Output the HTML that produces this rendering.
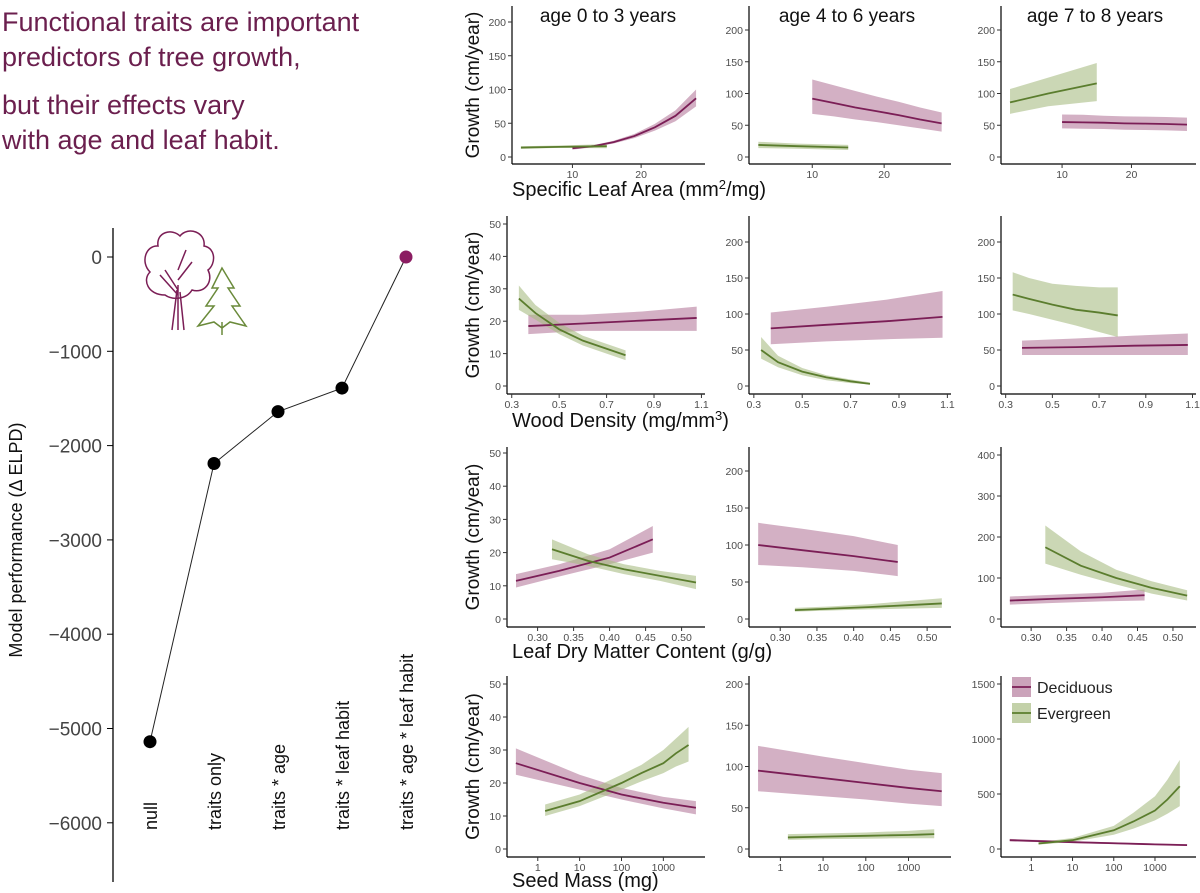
<!DOCTYPE html>
<html><head><meta charset="utf-8">
<style>
html,body{margin:0;padding:0;background:#fff;}
svg{display:block;}
.tk{font-family:"Liberation Sans",sans-serif;font-size:10.5px;fill:#4d4d4d;}
.ttl{font-family:"Liberation Sans",sans-serif;font-size:19px;fill:#111;}
.xt{font-family:"Liberation Sans",sans-serif;font-size:20px;fill:#111;}
.big{font-family:"Liberation Sans",sans-serif;font-size:27px;fill:#6b1f4e;}
.lt{font-family:"Liberation Sans",sans-serif;font-size:16px;fill:#222;}
</style></head>
<body>
<svg id="fig" width="1200" height="893" viewBox="0 0 1200 893" xmlns="http://www.w3.org/2000/svg">
<g>
<text class="big" x="2" y="31">Functional traits are important</text>
<text class="big" x="2" y="66">predictors of tree growth,</text>
<text class="big" x="2" y="114">but their effects vary</text>
<text class="big" x="2" y="149">with age and leaf habit.</text>
</g>
<g fill="none" stroke-width="1.5">
<path d="M178,330 L178,285 M172,330 L177,290 M184,330 L180,292 M178,290 L165,270 M178,280 L192,262 M178,295 L160,275 M178,270 L186,250" stroke="#7b1e56"/>
<path d="M165,295 C148,295 142,280 150,272 C140,262 146,245 158,246 C156,232 172,228 180,236 C188,226 206,232 204,246 C216,248 216,264 208,270 C214,282 204,294 192,290 C186,300 172,300 165,295 Z" stroke="#7b1e56"/>
<path d="M222,268 L212,288 L218,288 L206,306 L214,306 L198,326 L214,322 L222,328 L230,322 L246,326 L232,306 L240,306 L228,288 L234,288 Z M222,322 L222,335" stroke="#6a8a3a"/>
</g>
<g id="left"></g>
<g id="panels"></g>
</svg>
<script>
const NS="http://www.w3.org/2000/svg";
function mk(parent,tag,attrs,text){const e=document.createElementNS(NS,tag);for(const k in attrs)e.setAttribute(k,attrs[k]);if(text!==undefined)e.textContent=text;parent.appendChild(e);return e;}

// ---------- Left chart data ----------
const modelNames=["null","traits only","traits * age","traits * leaf habit","traits * age * leaf habit"];
const elpdValues=[-5140,-2190,-1640,-1390,0];
const elpdTicks=[0,-1000,-2000,-3000,-4000,-5000,-6000];

(function(){
  const g=document.getElementById('left');
  const yS=v=>257+(-v)*0.0943;
  const xS=i=>150+i*64;
  const ax=mk(g,'line',{x1:113,y1:228,x2:113,y2:882,stroke:'#000','stroke-width':1.3});
  
  elpdTicks.forEach(t=>{
    mk(g,'line',{x1:107,x2:113,y1:yS(t),y2:yS(t),stroke:'#000'});
    const tx=mk(g,'text',{x:102,y:yS(t)+7,'text-anchor':'end','font-family':'Liberation Sans, sans-serif','font-size':19,fill:'#444'},t===0?'0':'\u2212'+Math.abs(t));
    
  });
  const yt=mk(g,'text',{x:0,y:0,transform:'translate(22,540) rotate(-90)','text-anchor':'middle','font-family':'Liberation Sans, sans-serif','font-size':18,fill:'#111'},'Model performance (\u0394 ELPD)');
  
  const pts=elpdValues.map((v,i)=>xS(i)+','+yS(v)).join(' ');
  const pl=mk(g,'polyline',{points:pts,fill:'none',stroke:'#222','stroke-width':1});
  
  elpdValues.forEach((v,i)=>{
    const c=mk(g,'circle',{cx:xS(i),cy:yS(v),r:6.5,fill:i===4?'#8b1d62':'#000'});
    
    const t=mk(g,'text',{x:0,y:0,transform:`translate(${xS(i)+7},830) rotate(-90)`,'font-family':'Liberation Sans, sans-serif','font-size':18,fill:'#111'},modelNames[i]);
    
  });
})();

// ---------- Panel data ----------
// Row 1: Specific Leaf Area
const slaDecX=[10,13,16,19,22,25,28];
const slaEvX=[2.5,8,15];
const r1p1Dec=[13,16,22,31,44,61,87], r1p1DecLo=[11,14.5,20,28,39,53,75], r1p1DecHi=[15,17.5,24,34,49,69,100];
const r1p1Ev=[14,15,16], r1p1EvLo=[12,13.5,13], r1p1EvHi=[16,17,19];
const r1p2Dec=[92,85,78,72,66,59,53], r1p2DecLo=[68,64,59,55,50,45,40], r1p2DecHi=[122,113,104,95,87,78,70];
const r1p2Ev=[19,17,15], r1p2EvLo=[14,13,11], r1p2EvHi=[24,21,19];
const r1p3Dec=[55,54.5,54,53,52.5,52,51], r1p3DecLo=[45,44.5,44,43,42.5,42,41], r1p3DecHi=[67,66.5,65,64,63.5,63,62];
const r1p3Ev=[86,100,116], r1p3EvLo=[68,80,88], r1p3EvHi=[107,125,148];
// Row 2: Wood Density
const wdDecX=[0.37,0.6,0.85,1.08];
const wdEvX=[0.33,0.4,0.5,0.6,0.7,0.78];
const r2p1Dec=[18.5,19.3,20.2,21], r2p1DecLo=[16,17,17,17], r2p1DecHi=[22,22,23,24.5];
const r2p1Ev=[27,22.5,17.5,14,11.5,9.5], r2p1EvLo=[23.5,20.5,16,12.5,10,8], r2p1EvHi=[31,25,19.5,15.5,13,11];
const r2p2Dec=[80,85,90,96], r2p2DecLo=[58,62,65,67], r2p2DecHi=[102,110,120,132];
const r2p2Ev=[50,33,20,12,6.5,3], r2p2EvLo=[38,26,15,8,4,2], r2p2EvHi=[68,42,25,15,9,5];
const r2p3Dec=[53,54,56,57], r2p3DecLo=[43,43,43,43], r2p3DecHi=[63,66,70,73];
const r2p3Ev=[127,121,113,106,102,98], r2p3EvLo=[105,100,92,84,75,68], r2p3EvHi=[158,150,142,139,137,137];
// Row 3: Leaf Dry Matter Content
const ldDecX=[0.27,0.33,0.4,0.46];
const ldEvX=[0.32,0.37,0.42,0.47,0.52];
const r3p1Dec=[11.5,14.5,18.5,24], r3p1DecLo=[9.5,12.8,16.5,20], r3p1DecHi=[13.5,16.5,21,28];
const r3p1Ev=[21,17.5,15,13,11], r3p1EvLo=[18,16,13.5,11.5,9], r3p1EvHi=[24,19.5,16.5,14.5,13];
const r3p2Dec=[100,93,85,77], r3p2DecLo=[73,70,65,58], r3p2DecHi=[130,122,112,100];
const r3p2Ev=[12,14,16,18.5,21], r3p2EvLo=[10,11.5,13,14,15], r3p2EvHi=[15,17,20,24,28];
const r3p3Dec=[45,49,53,58], r3p3DecLo=[35,39,43,45], r3p3DecHi=[55,59,64,72];
const r3p3Ev=[175,130,100,76,57], r3p3EvLo=[135,108,84,62,45], r3p3EvHi=[228,165,120,92,70];
// Row 4: Seed Mass (log10 scale)
const smDecX=[0.3,10,100,1000,6000];
const smEvX=[1.5,10,100,300,1000,2000,4000];
const r4p1Dec=[26,20,16.5,14,12.5], r4p1DecLo=[22.5,18,15,12.3,10.5], r4p1DecHi=[30.5,22.5,18.5,15.8,14.5];
const r4p1Ev=[11.5,14.5,20,23,26,29,31.5], r4p1EvLo=[10,13,18,20.5,23,25,26.5], r4p1EvHi=[13.5,16.5,22.5,25.5,30,33.5,37];
const r4p2Dec=[95,86,80,74,70], r4p2DecLo=[70,64,60,55,52], r4p2DecHi=[125,112,104,96,92];
const r4p2Ev=[14,15,16,16.5,17,17.5,18], r4p2EvLo=[11,12,12.5,12.8,13,13,13], r4p2EvHi=[18,19,20,21,22,23,24];
const r4p3Dec=[80,62,52,42,35], r4p3DecLo=[70,54,44,35,28], r4p3DecHi=[92,72,60,50,44];
const r4p3Ev=[50,80,170,250,350,450,570], r4p3EvLo=[40,65,130,185,260,320,390], r4p3EvHi=[62,100,210,330,480,630,810];

// tick arrays
const ticks200=[0,50,100,150,200], ticks50=[0,10,20,30,40,50], ticks400=[0,100,200,300,400], ticks1500=[0,500,1000,1500];
const slaTicks=[10,20], wdTicks=[0.3,0.5,0.7,0.9,1.1], ldTicks=[0.30,0.35,0.40,0.45,0.50], smTicks=[1,10,100,1000];
const ageTitles=["age 0 to 3 years","age 4 to 6 years","age 7 to 8 years"];

const colEnd=[705,951,1196];
const rows=[
  {top:6,axisY:164,xt:196,title:['Specific Leaf Area (mm','2','/mg)'],x0:[512,749,1001],dom:[1.2,29.3],tr:v=>v,ticks:slaTicks,decX:slaDecX,evX:slaEvX,lab:v=>String(v),
   panels:[{yt:ticks200,y0:157,yTop:22,vmax:200,d:[r1p1Dec,r1p1DecLo,r1p1DecHi],e:[r1p1Ev,r1p1EvLo,r1p1EvHi]},
           {yt:ticks200,y0:157,yTop:30,vmax:200,d:[r1p2Dec,r1p2DecLo,r1p2DecHi],e:[r1p2Ev,r1p2EvLo,r1p2EvHi]},
           {yt:ticks200,y0:157,yTop:30,vmax:200,d:[r1p3Dec,r1p3DecLo,r1p3DecHi],e:[r1p3Ev,r1p3EvLo,r1p3EvHi]}]},
  {top:216,axisY:394,xt:427,title:['Wood Density (mg/mm','3',')'],x0:[507,749,1001],dom:[0.28,1.115],tr:v=>v,ticks:wdTicks,decX:wdDecX,evX:wdEvX,lab:v=>v.toFixed(1),
   panels:[{yt:ticks50,y0:386,yTop:224,vmax:50,d:[r2p1Dec,r2p1DecLo,r2p1DecHi],e:[r2p1Ev,r2p1EvLo,r2p1EvHi]},
           {yt:ticks200,y0:386,yTop:242,vmax:200,d:[r2p2Dec,r2p2DecLo,r2p2DecHi],e:[r2p2Ev,r2p2EvLo,r2p2EvHi]},
           {yt:ticks200,y0:386,yTop:242,vmax:200,d:[r2p3Dec,r2p3DecLo,r2p3DecHi],e:[r2p3Ev,r2p3EvLo,r2p3EvHi]}]},
  {top:447,axisY:627,xt:658,title:['Leaf Dry Matter Content (g/g)'],x0:[507,749,1001],dom:[0.2575,0.5325],tr:v=>v,ticks:ldTicks,decX:ldDecX,evX:ldEvX,lab:v=>v.toFixed(2),
   panels:[{yt:ticks50,y0:619,yTop:453,vmax:50,d:[r3p1Dec,r3p1DecLo,r3p1DecHi],e:[r3p1Ev,r3p1EvLo,r3p1EvHi]},
           {yt:ticks200,y0:619,yTop:471,vmax:200,d:[r3p2Dec,r3p2DecLo,r3p2DecHi],e:[r3p2Ev,r3p2EvLo,r3p2EvHi]},
           {yt:ticks400,y0:619,yTop:455,vmax:400,d:[r3p3Dec,r3p3DecLo,r3p3DecHi],e:[r3p3Ev,r3p3EvLo,r3p3EvHi]}]},
  {top:676,axisY:857,xt:887,title:['Seed Mass (mg)'],x0:[507,749,1001],dom:[-0.735,3.995],tr:v=>Math.log10(v),ticks:smTicks,decX:smDecX,evX:smEvX,lab:v=>String(v),
   panels:[{yt:ticks50,y0:849,yTop:684,vmax:50,d:[r4p1Dec,r4p1DecLo,r4p1DecHi],e:[r4p1Ev,r4p1EvLo,r4p1EvHi]},
           {yt:ticks200,y0:849,yTop:684,vmax:200,d:[r4p2Dec,r4p2DecLo,r4p2DecHi],e:[r4p2Ev,r4p2EvLo,r4p2EvHi]},
           {yt:ticks1500,y0:849,yTop:684,vmax:1500,d:[r4p3Dec,r4p3DecLo,r4p3DecHi],e:[r4p3Ev,r4p3EvLo,r4p3EvHi]}]}
];

const DEC={line:'#7b1e56',fill:'#b57c9c'}, EV={line:'#5b7d2e',fill:'#a9bd84'};

function band(g,xs,lo,hi,xf,yf,col,name){
  const top=xs.map((x,i)=>xf(x)+','+yf(hi[i]));
  const bot=xs.map((x,i)=>xf(x)+','+yf(lo[i])).reverse();
  const p=mk(g,'polygon',{points:top.concat(bot).join(' '),fill:col,'fill-opacity':0.6});
  
}
function line(g,xs,ys,xf,yf,col,name){
  const p=mk(g,'polyline',{points:xs.map((x,i)=>xf(x)+','+yf(ys[i])).join(' '),fill:'none',stroke:col,'stroke-width':1.8});
  
}

const root=document.getElementById('panels');
rows.forEach((r,ri)=>{
  r.panels.forEach((p,ci)=>{
    const g=mk(root,'g',{});
    
    const x0=r.x0[ci], x1=colEnd[ci];
    const xf=v=>x0+(r.tr(v)-r.dom[0])/(r.dom[1]-r.dom[0])*(x1-x0);
    const yf=v=>p.y0-(v/p.vmax)*(p.y0-p.yTop);
    band(g,r.decX,p.d[1],p.d[2],xf,yf,DEC.fill,'deciduous');
    band(g,r.evX,p.e[1],p.e[2],xf,yf,EV.fill,'evergreen');
    line(g,r.decX,p.d[0],xf,yf,DEC.line,'deciduous');
    line(g,r.evX,p.e[0],xf,yf,EV.line,'evergreen');
    mk(g,'line',{x1:x0,y1:r.top,x2:x0,y2:r.axisY,stroke:'#000','stroke-width':1.2});
    mk(g,'line',{x1:x0,y1:r.axisY,x2:x1,y2:r.axisY,stroke:'#000','stroke-width':1.2});
    p.yt.forEach(t=>{
      mk(g,'line',{x1:x0-4,x2:x0,y1:yf(t),y2:yf(t),stroke:'#333'});
      const tx=mk(g,'text',{class:'tk',x:x0-6,y:yf(t)+4,'text-anchor':'end'},String(t));
      
    });
    r.ticks.forEach(t=>{
      mk(g,'line',{x1:xf(t),x2:xf(t),y1:r.axisY,y2:r.axisY+4,stroke:'#333'});
      const tx=mk(g,'text',{class:'tk',x:xf(t),y:r.axisY+14,'text-anchor':'middle'},r.lab(t));
      
    });
  });
  const xt=mk(root,'text',{class:'xt',x:512,y:r.xt});
  
  r.title.forEach((s,i)=>{
    const ts=mk(xt,'tspan',i===1?{dy:-7,'font-size':13}:(i===2?{dy:7}:{}),s);
  });
  const yc=(r.top+r.axisY)/2;
  const yt=mk(root,'text',{class:'ttl',x:0,y:0,transform:`translate(479,${yc}) rotate(-90)`,'text-anchor':'middle'},'Growth (cm/year)');
  
});
const ageCenters=[608,847,1095];
ageTitles.forEach((t,i)=>{
  const e=mk(root,'text',{class:'ttl',x:ageCenters[i],y:22,'text-anchor':'middle'},t);
  
});
const lg=mk(root,'g',{});

[[DEC,'Deciduous',677],[EV,'Evergreen',703]].forEach(([c,lab,y])=>{
  const k=mk(lg,'rect',{x:1012,y:y,width:19,height:20,fill:c.fill,'fill-opacity':0.7});
  
  mk(lg,'line',{x1:1012,x2:1031,y1:y+10,y2:y+10,stroke:c.line,'stroke-width':1.8});
  const t=mk(lg,'text',{class:'lt',x:1037,y:y+16},lab);
  
});
</script>
</body></html>
